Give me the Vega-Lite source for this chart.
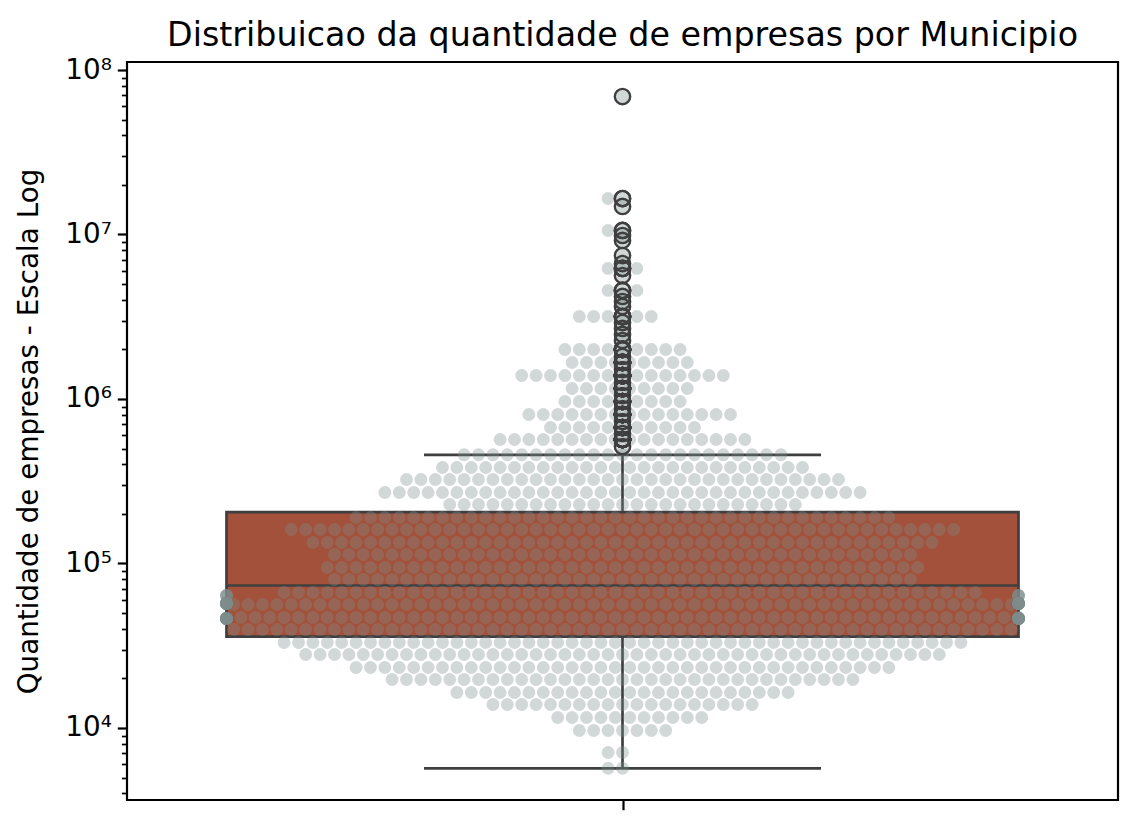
{
"$schema": "https://vega.github.io/schema/vega-lite/v6.json",
"width": 991,
"height": 738,
"autosize": {"type": "none"},
"padding": {"left": 127, "top": 62, "right": 21, "bottom": 31},
"background": "white",
"title": {"text": "Distribuicao da quantidade de empresas por Municipio", "font": "DejaVu Sans", "fontSize": 33.3, "fontWeight": "normal", "color": "black", "offset": 3},
"config": {
  "font": "DejaVu Sans",
  "view": {"stroke": "black", "strokeWidth": 2.2},
  "axis": {"grid": false, "domain": false, "labelFont": "DejaVu Sans", "titleFont": "DejaVu Sans", "labelColor": "black", "titleColor": "black", "tickColor": "black"}
},
"datasets": {
"estatisticas": [{"minimo": 5690, "q1": 35900, "mediana": 73500, "q3": 205000, "maximo": 458000}],
"a": [
{"qtd":69000000},
{"qtd":16550000},{"qtd":16550000},
{"qtd":14800000},
{"qtd":10580000},{"qtd":10580000},
{"qtd":9860000},
{"qtd":9200000},
{"qtd":7450000},
{"qtd":6660000},
{"qtd":6220000},{"qtd":6220000},{"qtd":6220000},
{"qtd":5630000},
{"qtd":4570000},{"qtd":4570000},{"qtd":4570000},
{"qtd":4200000},
{"qtd":3915000},
{"qtd":3650000},
{"qtd":3173000},{"qtd":3173000},{"qtd":3173000},{"qtd":3173000},{"qtd":3173000},{"qtd":3173000},
{"qtd":2917000},
{"qtd":2683000},
{"qtd":2467000},
{"qtd":2268000},
{"qtd":2000000},{"qtd":2000000},{"qtd":2000000},{"qtd":2000000},{"qtd":2000000},
{"qtd":2000000},{"qtd":2000000},{"qtd":2000000},{"qtd":2000000},
{"qtd":1813000},
{"qtd":1511000},
{"qtd":1389000},{"qtd":1389000},{"qtd":1389000},{"qtd":1389000},{"qtd":1389000},
{"qtd":1389000},{"qtd":1389000},{"qtd":1389000},{"qtd":1389000},{"qtd":1389000},
{"qtd":1389000},{"qtd":1389000},{"qtd":1389000},{"qtd":1389000},{"qtd":1389000},
{"qtd":1260000},
{"qtd":1050000},
{"qtd":965600},{"qtd":965600},{"qtd":965600},{"qtd":965600},{"qtd":965600},
{"qtd":965600},{"qtd":965600},{"qtd":965600},{"qtd":965600},
{"qtd":875400},
{"qtd":729800},
{"qtd":671000},{"qtd":671000},{"qtd":671000},{"qtd":671000},{"qtd":671000},
{"qtd":671000},{"qtd":671000},{"qtd":671000},{"qtd":671000},{"qtd":671000},
{"qtd":671000},
{"qtd":616900},
{"qtd":514300},
{"qtd":458000},{"qtd":458000},{"qtd":458000},{"qtd":458000},{"qtd":458000},
{"qtd":458000},{"qtd":458000},{"qtd":458000},{"qtd":458000},{"qtd":458000},
{"qtd":458000},{"qtd":458000},{"qtd":458000},{"qtd":458000},{"qtd":458000},
{"qtd":458000},{"qtd":458000},{"qtd":458000},{"qtd":458000},{"qtd":458000},
{"qtd":458000},{"qtd":458000},{"qtd":458000},
{"qtd":323900},{"qtd":323900},{"qtd":323900},{"qtd":323900},{"qtd":323900},
{"qtd":323900},{"qtd":323900},{"qtd":323900},{"qtd":323900},{"qtd":323900},
{"qtd":323900},{"qtd":323900},{"qtd":323900},{"qtd":323900},{"qtd":323900},
{"qtd":323900},{"qtd":323900},{"qtd":323900},{"qtd":323900},{"qtd":323900},
{"qtd":323900},{"qtd":323900},{"qtd":323900},{"qtd":323900},{"qtd":323900},
{"qtd":323900},{"qtd":323900},{"qtd":323900},{"qtd":323900},{"qtd":323900},
{"qtd":323900},
{"qtd":228400},{"qtd":228400},{"qtd":228400},{"qtd":228400},{"qtd":228400},
{"qtd":228400},{"qtd":228400},{"qtd":228400},{"qtd":228400},{"qtd":228400},
{"qtd":228400},{"qtd":228400},{"qtd":228400},{"qtd":228400},{"qtd":228400},
{"qtd":228400},{"qtd":228400},{"qtd":228400},{"qtd":228400},{"qtd":228400},
{"qtd":228400},{"qtd":228400},{"qtd":228400},{"qtd":228400},{"qtd":228400},
{"qtd":160900},{"qtd":160900},{"qtd":160900},{"qtd":160900},{"qtd":160900},
{"qtd":160900},{"qtd":160900},{"qtd":160900},{"qtd":160900},{"qtd":160900},
{"qtd":160900},{"qtd":160900},{"qtd":160900},{"qtd":160900},{"qtd":160900},
{"qtd":160900},{"qtd":160900},{"qtd":160900},{"qtd":160900},{"qtd":160900},
{"qtd":160900},{"qtd":160900},{"qtd":160900},{"qtd":160900},{"qtd":160900},
{"qtd":160900},{"qtd":160900},{"qtd":160900},{"qtd":160900},{"qtd":160900},
{"qtd":160900},{"qtd":160900},{"qtd":160900},{"qtd":160900},{"qtd":160900},
{"qtd":160900},{"qtd":160900},{"qtd":160900},{"qtd":160900},{"qtd":160900},
{"qtd":160900},{"qtd":160900},{"qtd":160900},{"qtd":160900},{"qtd":160900},
{"qtd":160900},{"qtd":160900},
{"qtd":113400},{"qtd":113400},{"qtd":113400},{"qtd":113400},{"qtd":113400},
{"qtd":113400},{"qtd":113400},{"qtd":113400},{"qtd":113400},{"qtd":113400},
{"qtd":113400},{"qtd":113400},{"qtd":113400},{"qtd":113400},{"qtd":113400},
{"qtd":113400},{"qtd":113400},{"qtd":113400},{"qtd":113400},{"qtd":113400},
{"qtd":113400},{"qtd":113400},{"qtd":113400},{"qtd":113400},{"qtd":113400},
{"qtd":113400},{"qtd":113400},{"qtd":113400},{"qtd":113400},{"qtd":113400},
{"qtd":113400},{"qtd":113400},{"qtd":113400},{"qtd":113400},{"qtd":113400},
{"qtd":113400},{"qtd":113400},{"qtd":113400},{"qtd":113400},{"qtd":113400},
{"qtd":113400},
{"qtd":79900},{"qtd":79900},{"qtd":79900},{"qtd":79900},{"qtd":79900},
{"qtd":79900},{"qtd":79900},{"qtd":79900},{"qtd":79900},{"qtd":79900},
{"qtd":79900},{"qtd":79900},{"qtd":79900},{"qtd":79900},{"qtd":79900},
{"qtd":79900},{"qtd":79900},{"qtd":79900},{"qtd":79900},{"qtd":79900},
{"qtd":79900},{"qtd":79900},{"qtd":79900},{"qtd":79900},{"qtd":79900},
{"qtd":79900},{"qtd":79900},{"qtd":79900},{"qtd":79900},{"qtd":79900},
{"qtd":79900},{"qtd":79900},{"qtd":79900},{"qtd":79900},{"qtd":79900},
{"qtd":79900},{"qtd":79900},{"qtd":79900},{"qtd":79900},{"qtd":79900},
{"qtd":79900},
{"qtd":56300},{"qtd":56300},{"qtd":56300},{"qtd":56300},{"qtd":56300},
{"qtd":56300},{"qtd":56300},{"qtd":56300},{"qtd":56300},{"qtd":56300},
{"qtd":56300},{"qtd":56300},{"qtd":56300},{"qtd":56300},{"qtd":56300},
{"qtd":56300},{"qtd":56300},{"qtd":56300},{"qtd":56300},{"qtd":56300},
{"qtd":56300},{"qtd":56300},{"qtd":56300},{"qtd":56300},{"qtd":56300},
{"qtd":56300},{"qtd":56300},{"qtd":56300},{"qtd":56300},{"qtd":56300},
{"qtd":56300},{"qtd":56300},{"qtd":56300},{"qtd":56300},{"qtd":56300},
{"qtd":56300},{"qtd":56300},{"qtd":56300},{"qtd":56300},{"qtd":56300},
{"qtd":56300},{"qtd":56300},{"qtd":56300},{"qtd":56300},{"qtd":56300},
{"qtd":56300},{"qtd":56300},{"qtd":56300},{"qtd":56300},{"qtd":56300},
{"qtd":56300},{"qtd":56300},{"qtd":56300},{"qtd":56300},{"qtd":56300},
{"qtd":39700},{"qtd":39700},{"qtd":39700},{"qtd":39700},{"qtd":39700},
{"qtd":39700},{"qtd":39700},{"qtd":39700},{"qtd":39700},{"qtd":39700},
{"qtd":39700},{"qtd":39700},{"qtd":39700},{"qtd":39700},{"qtd":39700},
{"qtd":39700},{"qtd":39700},{"qtd":39700},{"qtd":39700},{"qtd":39700},
{"qtd":39700},{"qtd":39700},{"qtd":39700},{"qtd":39700},{"qtd":39700},
{"qtd":39700},{"qtd":39700},{"qtd":39700},{"qtd":39700},{"qtd":39700},
{"qtd":39700},{"qtd":39700},{"qtd":39700},{"qtd":39700},{"qtd":39700},
{"qtd":39700},{"qtd":39700},{"qtd":39700},{"qtd":39700},{"qtd":39700},
{"qtd":39700},{"qtd":39700},{"qtd":39700},{"qtd":39700},{"qtd":39700},
{"qtd":39700},{"qtd":39700},{"qtd":39700},{"qtd":39700},{"qtd":39700},
{"qtd":39700},{"qtd":39700},{"qtd":39700},{"qtd":39700},{"qtd":39700},
{"qtd":27980},{"qtd":27980},{"qtd":27980},{"qtd":27980},{"qtd":27980},
{"qtd":27980},{"qtd":27980},{"qtd":27980},{"qtd":27980},{"qtd":27980},
{"qtd":27980},{"qtd":27980},{"qtd":27980},{"qtd":27980},{"qtd":27980},
{"qtd":27980},{"qtd":27980},{"qtd":27980},{"qtd":27980},{"qtd":27980},
{"qtd":27980},{"qtd":27980},{"qtd":27980},{"qtd":27980},{"qtd":27980},
{"qtd":27980},{"qtd":27980},{"qtd":27980},{"qtd":27980},{"qtd":27980},
{"qtd":27980},{"qtd":27980},{"qtd":27980},{"qtd":27980},{"qtd":27980},
{"qtd":27980},{"qtd":27980},{"qtd":27980},{"qtd":27980},{"qtd":27980},
{"qtd":27980},{"qtd":27980},{"qtd":27980},{"qtd":27980},{"qtd":27980},
{"qtd":19710},{"qtd":19710},{"qtd":19710},{"qtd":19710},{"qtd":19710},
{"qtd":19710},{"qtd":19710},{"qtd":19710},{"qtd":19710},{"qtd":19710},
{"qtd":19710},{"qtd":19710},{"qtd":19710},{"qtd":19710},{"qtd":19710},
{"qtd":19710},{"qtd":19710},{"qtd":19710},{"qtd":19710},{"qtd":19710},
{"qtd":19710},{"qtd":19710},{"qtd":19710},{"qtd":19710},{"qtd":19710},
{"qtd":19710},{"qtd":19710},{"qtd":19710},{"qtd":19710},{"qtd":19710},
{"qtd":19710},{"qtd":19710},{"qtd":19710},
{"qtd":13890},{"qtd":13890},{"qtd":13890},{"qtd":13890},{"qtd":13890},
{"qtd":13890},{"qtd":13890},{"qtd":13890},{"qtd":13890},{"qtd":13890},
{"qtd":13890},{"qtd":13890},{"qtd":13890},{"qtd":13890},{"qtd":13890},
{"qtd":13890},{"qtd":13890},{"qtd":13890},{"qtd":13890},
{"qtd":9660},{"qtd":9660},{"qtd":9660},{"qtd":9660},{"qtd":9660},
{"qtd":9660},{"qtd":9660},
{"qtd":7100},{"qtd":7100},
{"qtd":5690},{"qtd":5690}
],
"b": [
{"qtd":1667000},{"qtd":1667000},{"qtd":1667000},{"qtd":1667000},{"qtd":1667000},
{"qtd":1667000},{"qtd":1667000},{"qtd":1667000},{"qtd":1667000},
{"qtd":1158000},{"qtd":1158000},{"qtd":1158000},{"qtd":1158000},{"qtd":1158000},
{"qtd":1158000},{"qtd":1158000},{"qtd":1158000},{"qtd":1158000},
{"qtd":805000},{"qtd":805000},{"qtd":805000},{"qtd":805000},{"qtd":805000},
{"qtd":805000},{"qtd":805000},{"qtd":805000},{"qtd":805000},{"qtd":805000},
{"qtd":805000},{"qtd":805000},{"qtd":805000},{"qtd":805000},{"qtd":805000},
{"qtd":567300},{"qtd":567300},{"qtd":567300},{"qtd":567300},{"qtd":567300},
{"qtd":567300},{"qtd":567300},{"qtd":567300},{"qtd":567300},{"qtd":567300},
{"qtd":567300},{"qtd":567300},{"qtd":567300},{"qtd":567300},{"qtd":567300},
{"qtd":567300},{"qtd":567300},{"qtd":567300},
{"qtd":383400},{"qtd":383400},{"qtd":383400},{"qtd":383400},{"qtd":383400},
{"qtd":383400},{"qtd":383400},{"qtd":383400},{"qtd":383400},{"qtd":383400},
{"qtd":383400},{"qtd":383400},{"qtd":383400},{"qtd":383400},{"qtd":383400},
{"qtd":383400},{"qtd":383400},{"qtd":383400},{"qtd":383400},{"qtd":383400},
{"qtd":383400},{"qtd":383400},{"qtd":383400},{"qtd":383400},{"qtd":383400},
{"qtd":383400},
{"qtd":270200},{"qtd":270200},{"qtd":270200},{"qtd":270200},{"qtd":270200},
{"qtd":270200},{"qtd":270200},{"qtd":270200},{"qtd":270200},{"qtd":270200},
{"qtd":270200},{"qtd":270200},{"qtd":270200},{"qtd":270200},{"qtd":270200},
{"qtd":270200},{"qtd":270200},{"qtd":270200},{"qtd":270200},{"qtd":270200},
{"qtd":270200},{"qtd":270200},{"qtd":270200},{"qtd":270200},{"qtd":270200},
{"qtd":270200},{"qtd":270200},{"qtd":270200},{"qtd":270200},{"qtd":270200},
{"qtd":270200},{"qtd":270200},{"qtd":270200},{"qtd":270200},
{"qtd":190400},{"qtd":190400},{"qtd":190400},{"qtd":190400},{"qtd":190400},
{"qtd":190400},{"qtd":190400},{"qtd":190400},{"qtd":190400},{"qtd":190400},
{"qtd":190400},{"qtd":190400},{"qtd":190400},{"qtd":190400},{"qtd":190400},
{"qtd":190400},{"qtd":190400},{"qtd":190400},{"qtd":190400},{"qtd":190400},
{"qtd":190400},{"qtd":190400},{"qtd":190400},{"qtd":190400},{"qtd":190400},
{"qtd":190400},{"qtd":190400},{"qtd":190400},{"qtd":190400},{"qtd":190400},
{"qtd":190400},{"qtd":190400},{"qtd":190400},{"qtd":190400},{"qtd":190400},
{"qtd":190400},{"qtd":190400},{"qtd":190400},
{"qtd":134200},{"qtd":134200},{"qtd":134200},{"qtd":134200},{"qtd":134200},
{"qtd":134200},{"qtd":134200},{"qtd":134200},{"qtd":134200},{"qtd":134200},
{"qtd":134200},{"qtd":134200},{"qtd":134200},{"qtd":134200},{"qtd":134200},
{"qtd":134200},{"qtd":134200},{"qtd":134200},{"qtd":134200},{"qtd":134200},
{"qtd":134200},{"qtd":134200},{"qtd":134200},{"qtd":134200},{"qtd":134200},
{"qtd":134200},{"qtd":134200},{"qtd":134200},{"qtd":134200},{"qtd":134200},
{"qtd":134200},{"qtd":134200},{"qtd":134200},{"qtd":134200},{"qtd":134200},
{"qtd":134200},{"qtd":134200},{"qtd":134200},{"qtd":134200},{"qtd":134200},
{"qtd":134200},{"qtd":134200},{"qtd":134200},{"qtd":134200},
{"qtd":94600},{"qtd":94600},{"qtd":94600},{"qtd":94600},{"qtd":94600},
{"qtd":94600},{"qtd":94600},{"qtd":94600},{"qtd":94600},{"qtd":94600},
{"qtd":94600},{"qtd":94600},{"qtd":94600},{"qtd":94600},{"qtd":94600},
{"qtd":94600},{"qtd":94600},{"qtd":94600},{"qtd":94600},{"qtd":94600},
{"qtd":94600},{"qtd":94600},{"qtd":94600},{"qtd":94600},{"qtd":94600},
{"qtd":94600},{"qtd":94600},{"qtd":94600},{"qtd":94600},{"qtd":94600},
{"qtd":94600},{"qtd":94600},{"qtd":94600},{"qtd":94600},{"qtd":94600},
{"qtd":94600},{"qtd":94600},{"qtd":94600},{"qtd":94600},{"qtd":94600},
{"qtd":94600},{"qtd":94600},
{"qtd":66600},{"qtd":66600},{"qtd":66600},{"qtd":66600},{"qtd":66600},
{"qtd":66600},{"qtd":66600},{"qtd":66600},{"qtd":66600},{"qtd":66600},
{"qtd":66600},{"qtd":66600},{"qtd":66600},{"qtd":66600},{"qtd":66600},
{"qtd":66600},{"qtd":66600},{"qtd":66600},{"qtd":66600},{"qtd":66600},
{"qtd":66600},{"qtd":66600},{"qtd":66600},{"qtd":66600},{"qtd":66600},
{"qtd":66600},{"qtd":66600},{"qtd":66600},{"qtd":66600},{"qtd":66600},
{"qtd":66600},{"qtd":66600},{"qtd":66600},{"qtd":66600},{"qtd":66600},
{"qtd":66600},{"qtd":66600},{"qtd":66600},{"qtd":66600},{"qtd":66600},
{"qtd":66600},{"qtd":66600},{"qtd":66600},{"qtd":66600},{"qtd":66600},
{"qtd":66600},{"qtd":66600},{"qtd":66600},{"qtd":66600},
{"qtd":46950},{"qtd":46950},{"qtd":46950},{"qtd":46950},{"qtd":46950},
{"qtd":46950},{"qtd":46950},{"qtd":46950},{"qtd":46950},{"qtd":46950},
{"qtd":46950},{"qtd":46950},{"qtd":46950},{"qtd":46950},{"qtd":46950},
{"qtd":46950},{"qtd":46950},{"qtd":46950},{"qtd":46950},{"qtd":46950},
{"qtd":46950},{"qtd":46950},{"qtd":46950},{"qtd":46950},{"qtd":46950},
{"qtd":46950},{"qtd":46950},{"qtd":46950},{"qtd":46950},{"qtd":46950},
{"qtd":46950},{"qtd":46950},{"qtd":46950},{"qtd":46950},{"qtd":46950},
{"qtd":46950},{"qtd":46950},{"qtd":46950},{"qtd":46950},{"qtd":46950},
{"qtd":46950},{"qtd":46950},{"qtd":46950},{"qtd":46950},{"qtd":46950},
{"qtd":46950},{"qtd":46950},{"qtd":46950},{"qtd":46950},{"qtd":46950},
{"qtd":46950},{"qtd":46950},{"qtd":46950},{"qtd":46950},{"qtd":46950},
{"qtd":33100},{"qtd":33100},{"qtd":33100},{"qtd":33100},{"qtd":33100},
{"qtd":33100},{"qtd":33100},{"qtd":33100},{"qtd":33100},{"qtd":33100},
{"qtd":33100},{"qtd":33100},{"qtd":33100},{"qtd":33100},{"qtd":33100},
{"qtd":33100},{"qtd":33100},{"qtd":33100},{"qtd":33100},{"qtd":33100},
{"qtd":33100},{"qtd":33100},{"qtd":33100},{"qtd":33100},{"qtd":33100},
{"qtd":33100},{"qtd":33100},{"qtd":33100},{"qtd":33100},{"qtd":33100},
{"qtd":33100},{"qtd":33100},{"qtd":33100},{"qtd":33100},{"qtd":33100},
{"qtd":33100},{"qtd":33100},{"qtd":33100},{"qtd":33100},{"qtd":33100},
{"qtd":33100},{"qtd":33100},{"qtd":33100},{"qtd":33100},{"qtd":33100},
{"qtd":33100},{"qtd":33100},{"qtd":33100},
{"qtd":23320},{"qtd":23320},{"qtd":23320},{"qtd":23320},{"qtd":23320},
{"qtd":23320},{"qtd":23320},{"qtd":23320},{"qtd":23320},{"qtd":23320},
{"qtd":23320},{"qtd":23320},{"qtd":23320},{"qtd":23320},{"qtd":23320},
{"qtd":23320},{"qtd":23320},{"qtd":23320},{"qtd":23320},{"qtd":23320},
{"qtd":23320},{"qtd":23320},{"qtd":23320},{"qtd":23320},{"qtd":23320},
{"qtd":23320},{"qtd":23320},{"qtd":23320},{"qtd":23320},{"qtd":23320},
{"qtd":23320},{"qtd":23320},{"qtd":23320},{"qtd":23320},{"qtd":23320},
{"qtd":23320},{"qtd":23320},{"qtd":23320},
{"qtd":16430},{"qtd":16430},{"qtd":16430},{"qtd":16430},{"qtd":16430},
{"qtd":16430},{"qtd":16430},{"qtd":16430},{"qtd":16430},{"qtd":16430},
{"qtd":16430},{"qtd":16430},{"qtd":16430},{"qtd":16430},{"qtd":16430},
{"qtd":16430},{"qtd":16430},{"qtd":16430},{"qtd":16430},{"qtd":16430},
{"qtd":16430},{"qtd":16430},{"qtd":16430},{"qtd":16430},
{"qtd":11580},{"qtd":11580},{"qtd":11580},{"qtd":11580},{"qtd":11580},
{"qtd":11580},{"qtd":11580},{"qtd":11580},{"qtd":11580},{"qtd":11580},
{"qtd":11580}
],
"borda": [
{"qtd":63900},{"qtd":63900},{"qtd":63900},{"qtd":63900},{"qtd":63900},
{"qtd":63900},{"qtd":63900},{"qtd":63900},
{"qtd":57100},{"qtd":57100},{"qtd":57100},{"qtd":57100},{"qtd":57100},
{"qtd":57100},{"qtd":57100},{"qtd":57100},{"qtd":57100},{"qtd":57100},
{"qtd":57100},{"qtd":57100},{"qtd":57100},{"qtd":57100},{"qtd":57100},
{"qtd":57100},{"qtd":57100},{"qtd":57100},{"qtd":57100},{"qtd":57100},
{"qtd":57100},{"qtd":57100},{"qtd":57100},{"qtd":57100},{"qtd":57100},
{"qtd":57100},{"qtd":57100},{"qtd":57100},{"qtd":57100},{"qtd":57100},
{"qtd":46300},{"qtd":46300},{"qtd":46300},{"qtd":46300},{"qtd":46300},
{"qtd":46300},{"qtd":46300},{"qtd":46300},{"qtd":46300},{"qtd":46300},
{"qtd":46300},{"qtd":46300},{"qtd":46300},{"qtd":46300},{"qtd":46300},
{"qtd":46300},{"qtd":46300},{"qtd":46300},{"qtd":46300},{"qtd":46300},
{"qtd":46300},{"qtd":46300},{"qtd":46300},{"qtd":46300},{"qtd":46300},
{"qtd":46300},{"qtd":46300},{"qtd":46300},{"qtd":46300},{"qtd":46300}
]
},
"layer": [
{
  "data": {"name": "estatisticas"},
  "mark": {"type": "bar", "width": 792, "fill": "#a3513a", "stroke": "#3f3f3f", "strokeWidth": 2.7},
  "encoding": {
    "x": {"datum": 1, "type": "ordinal",
      "scale": {"type": "point", "range": [99.5, 891.5], "domain": [54,52,50,48,46,44,42,40,38,36,34,32,30,28,26,24,22,20,18,16,14,12,10,8,6,4,2,1,3,5,7,9,11,13,15,17,19,21,23,25,27,29,31,33,35,37,39,41,43,45,47,49,51,53,55]},
      "axis": {"values": [1], "labels": false, "title": null, "tickSize": 9.7, "tickWidth": 2.2, "domain": false, "grid": false}},
    "y": {"field": "q1", "type": "quantitative",
      "scale": {"type": "log", "domain": [3650, 111850000], "nice": false},
      "axis": {
        "title": "Quantidade de empresas - Escala Log",
        "titleFontSize": 27.8, "titleFontWeight": "normal", "titlePadding": 21,
        "labelFontSize": 27.8, "labelPadding": 6, "labelOverlap": false,
        "values": [4000,5000,6000,7000,8000,9000,10000,20000,30000,40000,50000,60000,70000,80000,90000,100000,200000,300000,400000,500000,600000,700000,800000,900000,1000000,2000000,3000000,4000000,5000000,6000000,7000000,8000000,9000000,10000000,20000000,30000000,40000000,50000000,60000000,70000000,80000000,90000000,100000000],
        "labelExpr": "abs(log(datum.value)/LN10 - round(log(datum.value)/LN10)) < 0.001 ? '10' + ['⁰','¹','²','³','⁴','⁵','⁶','⁷','⁸'][round(log(datum.value)/LN10)] : ''",
        "tickSize": {"condition": {"test": "abs(log(datum.value)/LN10 - round(log(datum.value)/LN10)) < 0.001", "value": 9.7}, "value": 5.6},
        "tickWidth": {"condition": {"test": "abs(log(datum.value)/LN10 - round(log(datum.value)/LN10)) < 0.001", "value": 2.2}, "value": 1.7}
      }},
    "y2": {"field": "q3"}
  }
},
{
  "data": {"name": "estatisticas"},
  "mark": {"type": "rule", "color": "#3f3f3f", "strokeWidth": 2.7},
  "encoding": {"x": {"datum": 1, "type": "ordinal"}, "y": {"field": "minimo", "type": "quantitative"}, "y2": {"field": "q1"}}
},
{
  "data": {"name": "estatisticas"},
  "mark": {"type": "rule", "color": "#3f3f3f", "strokeWidth": 2.7},
  "encoding": {"x": {"datum": 1, "type": "ordinal"}, "y": {"field": "q3", "type": "quantitative"}, "y2": {"field": "maximo"}}
},
{
  "data": {"name": "estatisticas"},
  "mark": {"type": "tick", "orient": "horizontal", "size": 397, "thickness": 2.7, "color": "#3f3f3f", "opacity": 1},
  "encoding": {"x": {"datum": 1, "type": "ordinal"}, "y": {"field": "minimo", "type": "quantitative"}}
},
{
  "data": {"name": "estatisticas"},
  "mark": {"type": "tick", "orient": "horizontal", "size": 397, "thickness": 2.7, "color": "#3f3f3f", "opacity": 1},
  "encoding": {"x": {"datum": 1, "type": "ordinal"}, "y": {"field": "maximo", "type": "quantitative"}}
},
{
  "data": {"name": "estatisticas"},
  "mark": {"type": "tick", "orient": "horizontal", "size": 792, "thickness": 2.7, "color": "#3f3f3f", "opacity": 1},
  "encoding": {"x": {"datum": 1, "type": "ordinal"}, "y": {"field": "mediana", "type": "quantitative"}}
},
{
  "data": {"name": "a"},
  "transform": [{"window": [{"op": "row_number", "as": "r"}], "groupby": ["qtd"]}],
  "mark": {"type": "circle", "size": 165, "color": "#7f8c8d", "opacity": 0.35},
  "encoding": {"x": {"field": "r", "type": "ordinal"}, "y": {"field": "qtd", "type": "quantitative"}}
},
{
  "data": {"name": "b"},
  "transform": [{"window": [{"op": "row_number", "as": "r"}], "groupby": ["qtd"]}],
  "mark": {"type": "circle", "size": 165, "color": "#7f8c8d", "opacity": 0.35, "xOffset": 7.2},
  "encoding": {"x": {"field": "r", "type": "ordinal"}, "y": {"field": "qtd", "type": "quantitative"}}
},
{
  "data": {"name": "borda"},
  "transform": [{"window": [{"op": "row_number", "as": "r"}], "groupby": ["qtd"]}, {"filter": "datum.r % 2 == 0"}],
  "mark": {"type": "circle", "size": 165, "color": "#7f8c8d", "opacity": 0.35, "xOffset": -7.2},
  "encoding": {"x": {"datum": 54, "type": "ordinal"}, "y": {"field": "qtd", "type": "quantitative"}}
},
{
  "data": {"name": "borda"},
  "transform": [{"window": [{"op": "row_number", "as": "r"}], "groupby": ["qtd"]}, {"filter": "datum.r % 2 == 1"}],
  "mark": {"type": "circle", "size": 165, "color": "#7f8c8d", "opacity": 0.35, "xOffset": 7.2},
  "encoding": {"x": {"datum": 55, "type": "ordinal"}, "y": {"field": "qtd", "type": "quantitative"}}
},
{
  "data": {"name": "a"},
  "transform": [{"filter": "datum.qtd > 459000"}],
  "mark": {"type": "point", "shape": "circle", "filled": false, "size": 235, "strokeWidth": 2.4, "color": "#3f3f3f", "opacity": 1},
  "encoding": {"x": {"datum": 1, "type": "ordinal"}, "y": {"field": "qtd", "type": "quantitative"}}
},
{
  "data": {"name": "b"},
  "transform": [{"filter": "datum.qtd > 459000"}],
  "mark": {"type": "point", "shape": "circle", "filled": false, "size": 235, "strokeWidth": 2.4, "color": "#3f3f3f", "opacity": 1},
  "encoding": {"x": {"datum": 1, "type": "ordinal"}, "y": {"field": "qtd", "type": "quantitative"}}
}
]
}
